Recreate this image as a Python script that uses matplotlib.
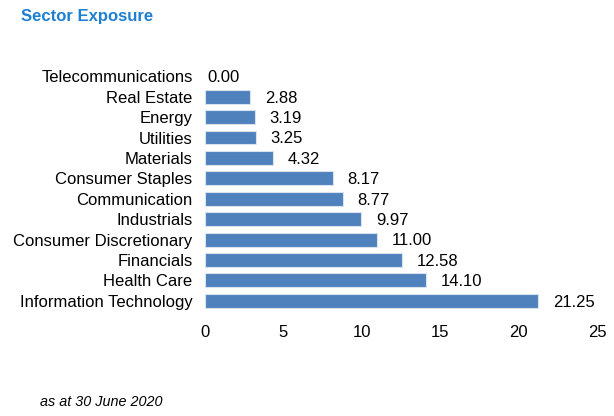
import matplotlib.pyplot as plt

plt.rcParams['font.family'] = ['Liberation Sans', 'DejaVu Sans']

# data, top to bottom as in the chart
sectors = ['Telecommunications', 'Real Estate', 'Energy', 'Utilities', 'Materials',
           'Consumer Staples', 'Communication', 'Industrials', 'Consumer Discretionary',
           'Financials', 'Health Care', 'Information Technology']
weights = [0.00, 2.88, 3.19, 3.25, 4.32, 8.17, 8.77, 9.97, 11.00, 12.58, 14.10, 21.25]
xticks = [0, 5, 10, 15, 20, 25]

fig = plt.figure(figsize=(6.14, 4.16), dpi=100)
ax = fig.add_axes([205 / 614, 0.2524, (597 - 205) / 614, 0.841 - 0.2524])

ypos = list(range(len(sectors)))
lw = [0.8 if w > 0 else 0 for w in weights]
ax.barh(ypos, weights, height=0.68, color='#4F81BD', edgecolor='#D9E3F0', linewidth=lw)

for y, w in zip(ypos, weights):
    off = 10.5 if w > 0 else 2  # points
    ax.annotate('%.2f' % w, xy=(w, y), xytext=(off, -1), textcoords='offset points',
                va='center', ha='left', fontsize=12)

ax.set_yticks(ypos)
ax.set_yticklabels(sectors, fontsize=12)
ax.set_ylim(len(sectors) - 0.5, -0.5)
ax.set_xlim(0, 25)
ax.set_xticks(xticks)
ax.set_xticklabels([str(t) for t in xticks], fontsize=12)
ax.tick_params(axis='both', length=0)
ax.tick_params(axis='x', pad=10)
ax.tick_params(axis='y', pad=9)
for s in ax.spines.values():
    s.set_visible(False)

fig.text(21 / 614, 1 - 17 / 416, 'Sector Exposure', fontsize=12, fontweight='bold',
         color='#1F7FD0', va='center', ha='left')
fig.text(40 / 614, 1 - 402 / 416, 'as at 30 June 2020', fontsize=10.4, style='italic',
         va='center', ha='left')

fig.savefig('out.png', dpi=100)
